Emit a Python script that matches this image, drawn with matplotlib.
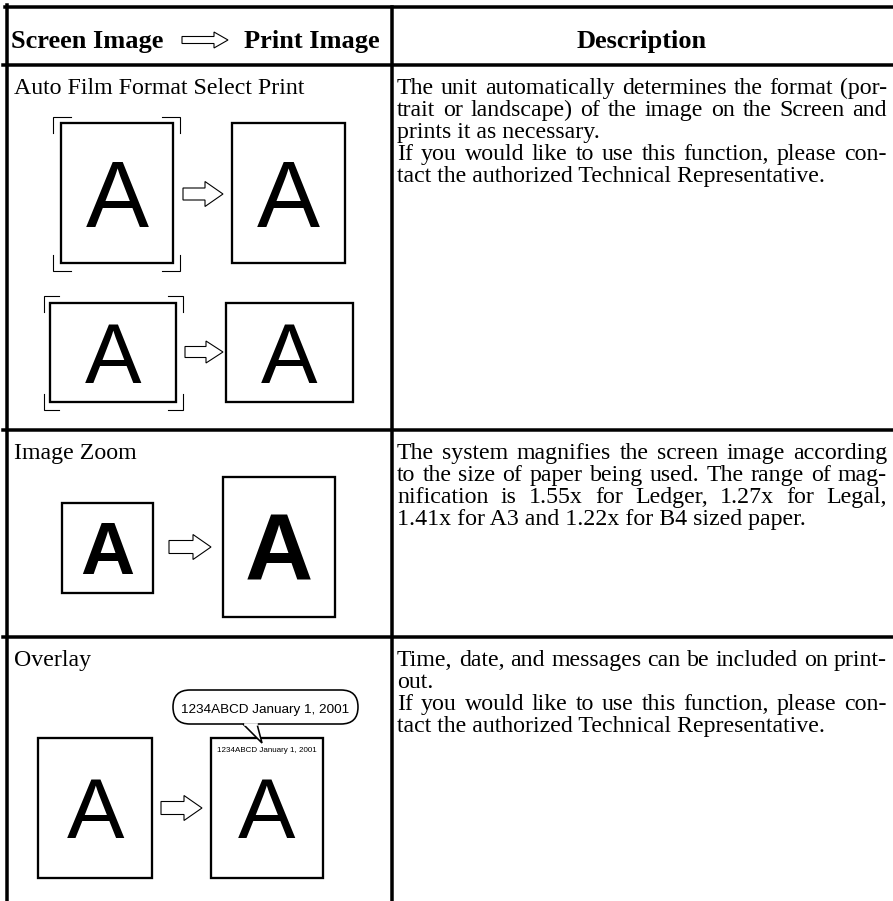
import matplotlib.pyplot as plt
from matplotlib.patches import Polygon, Rectangle, FancyBboxPatch
plt.switch_backend('agg')

W, H = 893, 901

header_labels = ['Screen Image', 'Print Image', 'Description']
row_titles = ['Auto Film Format Select Print', 'Image Zoom', 'Overlay']
row_descriptions = [
    ['The unit automatically determines the format (por-',
     'trait or landscape) of the image on the Screen and',
     'prints it as necessary.',
     'If you would like to use this function, please con-',
     'tact the authorized Technical Representative.'],
    ['The system magnifies the screen image according',
     'to the size of paper being used. The range of mag-',
     'nification is 1.55x for Ledger, 1.27x for Legal,',
     '1.41x for A3 and 1.22x for B4 sized paper.'],
    ['Time, date, and messages can be included on print-',
     'out.',
     'If you would like to use this function, please con-',
     'tact the authorized Technical Representative.'],
]
# lines that close a paragraph are left aligned, the rest justified
paragraph_ends = [[2, 4], [3], [1, 3]]
sample_letter = 'A'
overlay_stamp = '1234ABCD January 1, 2001'

# table geometry in pixels
row_edges = [7, 65, 430, 637]
col_split = 392
desc_left, desc_right = 397, 887
line_step = 22

serif = dict(family='Liberation Serif', fontsize=17.2, color='black')
sans = 'Liberation Sans'


def px(v):
    return v * 0.72


def box(ax, x0, y0, x1, y1, lw=2.3):
    ax.add_patch(Rectangle((x0, y0), x1 - x0, y1 - y0, fill=False,
                           ec='black', lw=px(lw), joinstyle='miter'))


def hollow_arrow(ax, x0, x1, yc, sh, hh, hx):
    pts = [(x0, yc - sh / 2), (hx, yc - sh / 2), (hx, yc - hh / 2),
           (x1, yc), (hx, yc + hh / 2), (hx, yc + sh / 2),
           (x0, yc + sh / 2)]
    ax.add_patch(Polygon(pts, closed=True, fc='white', ec='black',
                         lw=px(1.1), joinstyle='miter'))


def brackets(ax, x0, y0, x1, y1, ah, av):
    kw = dict(color='black', lw=px(1.1), solid_joinstyle='miter')
    ax.plot([x0 + ah, x0, x0], [y0, y0, y0 + av], **kw)
    ax.plot([x1 - ah, x1, x1], [y0, y0, y0 + av], **kw)
    ax.plot([x0 + ah, x0, x0], [y1, y1, y1 - av], **kw)
    ax.plot([x1 - ah, x1, x1], [y1, y1, y1 - av], **kw)


def letter(ax, x, y, size, bold=False):
    ax.text(x, y, sample_letter, family=sans, fontsize=size,
            fontweight='bold' if bold else 'normal',
            ha='center', va='baseline')


def put_line(ax, rend, text, y, justify):
    if not justify:
        ax.text(desc_left, y, text, va='baseline', **serif)
        return
    words = text.split(' ')
    widths = []
    for w in words:
        t = ax.text(0, 0, w, **serif)
        widths.append(t.get_window_extent(rend).width)
        t.remove()
    gap = (desc_right - desc_left - sum(widths)) / (len(words) - 1)
    x = desc_left
    for w, wd in zip(words, widths):
        ax.text(x, y, w, va='baseline', **serif)
        x += wd + gap


fig = plt.figure(figsize=(W / 100, H / 100), dpi=100)
ax = fig.add_axes([0, 0, 1, 1])
ax.set_xlim(0, W)
ax.set_ylim(H, 0)
ax.set_aspect('auto')
ax.axis('off')
rend = fig.canvas.get_renderer()

# table rules
tl = px(3.5)
ax.plot([5, W], [row_edges[0]] * 2, color='black', lw=tl)
for y in row_edges[1:]:
    ax.plot([3, W], [y, y], color='black', lw=tl)
ax.plot([7, 7], [5, H], color='black', lw=tl)
ax.plot([col_split, col_split], [row_edges[0], H], color='black', lw=tl)

# header
hdr = dict(family='Liberation Serif', fontsize=19, fontweight='bold',
           va='baseline')
ax.text(11, 48, header_labels[0], ha='left', **hdr)
ax.text(380, 48, header_labels[1], ha='right', **hdr)
ax.text(642, 48, header_labels[2], ha='center', **hdr)
hollow_arrow(ax, 182, 228, 40, 7, 16, 214)

# row titles and descriptions
for i, (title, lines) in enumerate(zip(row_titles, row_descriptions)):
    base = row_edges[i + 1] + 29
    ax.text(14, base, title, va='baseline', **serif)
    for j, line in enumerate(lines):
        put_line(ax, rend, line, base + j * line_step,
                 j not in paragraph_ends[i])

# row 1: auto film format, portrait
brackets(ax, 53, 117, 180, 271, 18, 16)
box(ax, 61, 123, 173, 263)
letter(ax, 117, 227, 68)
hollow_arrow(ax, 183, 223, 194, 12, 25, 205)
box(ax, 232, 123, 345, 263)
letter(ax, 288.5, 227, 68)

# row 1: landscape
brackets(ax, 44, 296, 183, 410, 15, 16)
box(ax, 50, 303, 176, 402)
letter(ax, 113.5, 383, 61)
hollow_arrow(ax, 185, 223, 352, 11, 22, 206)
box(ax, 226, 303, 353, 402)
letter(ax, 289.5, 383, 61)

# row 2: image zoom
box(ax, 62, 503, 153, 593)
letter(ax, 107.5, 574, 54, bold=True)
hollow_arrow(ax, 169, 211, 547, 13, 25, 193)
box(ax, 223, 477, 335, 617)
letter(ax, 279, 581, 68, bold=True)

# row 3: overlay
box(ax, 38, 738, 152, 878)
letter(ax, 95.5, 838, 62)
hollow_arrow(ax, 161, 202, 808, 13, 25, 184)
box(ax, 211, 738, 323, 878)
letter(ax, 266.5, 838, 62)
ax.text(267, 752, overlay_stamp, family=sans, fontsize=5.8,
        ha='center', va='baseline')

# callout bubble
ax.add_patch(FancyBboxPatch((173, 690), 185, 34,
                            boxstyle='round,pad=0,rounding_size=17',
                            fc='white', ec='black', lw=px(1.6), zorder=3))
ax.add_patch(Polygon([(243, 724), (262, 743), (257, 724)], closed=False,
                     fc='white', ec='black', lw=px(1.6), zorder=4))
ax.plot([244.5, 255.5], [724, 724], color='white', lw=px(2.6), zorder=5)
ax.text(265, 713, overlay_stamp, family=sans, fontsize=9.7,
        ha='center', va='baseline', zorder=6)

fig.savefig('out.png', dpi=100)
plt.close('all')
